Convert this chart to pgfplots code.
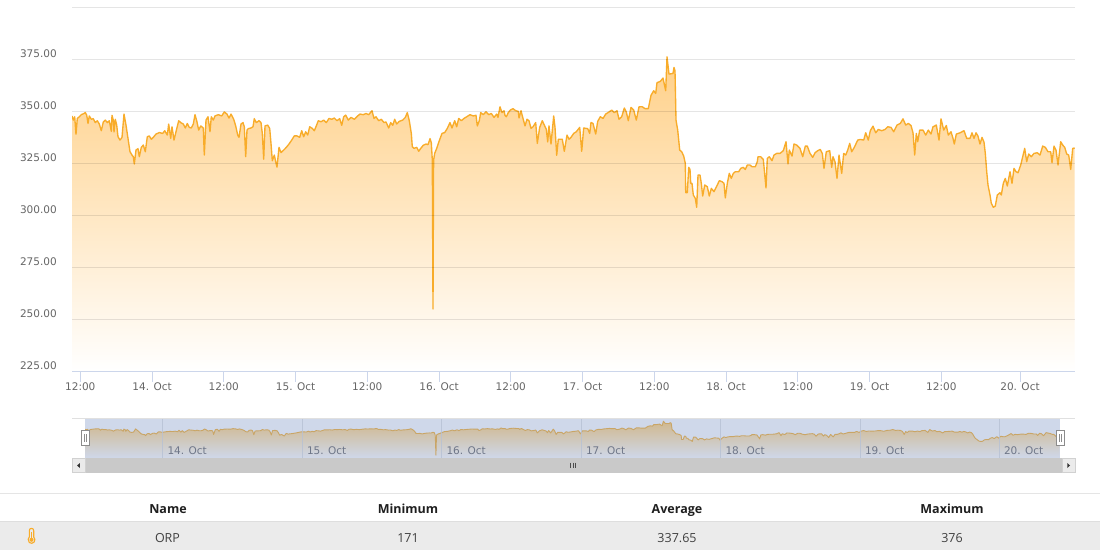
\documentclass[border=0pt]{standalone}
\usepackage{pgfplots}
\usepackage{pgfplotstable}
\usepackage{fontspec}
\pgfplotsset{compat=1.18}
\setmainfont{DejaVu Sans}
\newfontfamily\tbl{Open Sans}
\definecolor{orp}{HTML}{F8AC2A}
\definecolor{orpfill}{HTML}{FFD088}
\definecolor{navbg}{HTML}{CFD8EA}
\definecolor{navfill}{HTML}{D0B88E}
\definecolor{navline}{HTML}{C9A566}
\definecolor{navgrid}{HTML}{B7C1D4}
\definecolor{navtext}{HTML}{6E7688}
\definecolor{tick}{HTML}{CCD6EB}
\definecolor{lab}{HTML}{666666}
\pgfplotstableread{
x y
72.0 347.8
73.3 345.8
74.7 347.4
76 339.0
77.3 346.6
79.3 347.4
81.3 348.4
84 349.0
85.3 349.4
86.7 348.2
88 344.2
89.3 347.8
91.3 346.2
93.3 346.5
95.3 344.6
97.3 345.5
99.3 343.9
101.3 340.7
103.3 344.9
105.3 345.8
107.3 344.6
109.3 345.5
111.3 340.4
112 348.1
113.3 345.8
114 340.1
115.3 346.2
116.7 343.4
118 337.8
120 336.2
122 337.5
124 348.7
126 343.4
128 337
130 330.6
132 329
133.3 328.2
134.3 324.7
136 331.4
138 332.1
139.3 328.2
141.3 332.7
143.3 333.8
145.3 330.6
147.3 337.8
149.3 338.2
151.3 336.6
153.3 337.5
156 339.1
159.3 339.8
162.7 339.4
164.7 340.7
167.3 338.6
168.7 343.9
170.7 337
172 342.6
174 336.2
176 340.2
178.7 345.5
180.7 344.6
183.3 343.9
185.3 342
187.3 344.2
189.3 342.3
191.3 342
193.3 343.9
195 348.4
196.7 345.5
198.7 341
200.7 343
203.3 342
204.3 329
206 345.8
208 347.4
210 340.2
211.3 347.4
213.3 345.8
215 347.8
218.3 348.4
221.7 347.8
224.3 349.7
227 348.7
229 346.8
231 348.7
233.7 346.2
235.7 343
237.7 338.6
239 337.5
241 343.9
243 344.6
244.3 342.6
245.7 328.2
247 341
248.3 341.7
251 342
253 342.6
254.3 346.5
256.3 344.6
259 345.5
261 344.6
262.3 339.4
263.7 327
265 343
267.7 343.4
269.7 341.8
271 334.6
272.3 326.3
274.3 329
275.7 325.8
277 323.2
279 332.7
281 330.2
283.7 331.4
286.3 332.7
289 334.3
291.7 336.2
294.3 338.2
297 338.2
299.7 337.5
301.7 340.7
303.7 337.8
305.7 340.2
307.7 338.6
309.7 342.6
312.3 341.8
314.3 340.7
316.3 343
318.3 345.5
321 345
323.7 345.8
326.3 344.6
329 346.6
331.7 346.2
334.3 346.8
337 345.5
339.7 346.5
341.7 343.3
343.7 347.4
345.7 348.2
348.3 345.8
351 347.1
354.3 346.2
357.7 347.8
360 348.7
363.3 348.4
366 349
368.7 348.4
372 350.3
374 346.6
376 347.4
378.7 345.5
381.3 346.2
384 344.6
386 344.9
388.7 342
390.7 344.6
392.7 343.3
394.7 346.2
396.7 343.9
399.3 345.2
402.7 345.8
405.3 347.1
407.3 349.4
409.3 345.5
411.3 339.4
412.3 333
414 332.2
416.7 332.7
418.7 330.8
420.7 332.2
423.3 333.7
426 334.3
428 334
430 336.9
431.3 335
432.3 326.6
433 255
433.6 326.6
434.7 329.8
436.7 332.2
439.3 335.9
442 339.4
444.7 339.8
447.3 341.8
450 344.6
452 342
454.7 345.5
456.7 342.6
458.7 346.6
461.3 345.5
464 346.6
466.7 347.4
470 348.4
473.3 347.8
476 348.1
477.3 343
479.3 345.5
480.7 349.4
483.3 348.4
486 349.8
488.7 348.4
491.3 349
494 347.1
496.7 348.7
498 347.1
500 352.2
502 349.4
504 350.3
505 348.1
506.3 347.4
508.3 349.4
510.3 350.6
513 351.3
515.7 350.3
518.3 350
519 346.8
521 350.3
523 346.6
525 343
527 346.2
529 345.5
531 341.8
533 342.6
535.7 344.6
537.3 334.6
539.7 342.3
542.3 345.5
544.3 343.4
546.3 341.4
547.7 335.3
549 343
551 334.3
553.7 347.8
555 342.3
556.7 328.9
558.3 336.6
562.3 336.6
564.3 330.8
567 338.6
569 336.6
571 337.5
573.7 339.4
576.3 340.2
579.7 342.3
581.7 330.8
583.7 342
587.7 341.7
589.7 339.4
591 344.7
593 344.2
595.7 339.1
597.7 345.2
600.3 347.4
603 346.6
605.7 348.7
609 349.7
611.7 350.6
614.3 349.4
617 350.3
619 346.2
621.7 347.4
624.3 351.6
626.3 349.7
628.3 345.5
631 351.9
633.7 350.6
636.3 345.8
639 352.2
642.3 352.2
645 351.3
648.3 351.3
651 357.7
653.7 359.9
655.7 358.6
657 363.8
660.3 364.4
663 366
665.7 359.9
667 376.2
669 367.9
673 368.2
674 371.1
675 369.5
676 345.8
677.7 341
679.7 331.4
681.7 330.6
683.7 328.5
685.3 325
685.7 310.9
687.3 310.9
688.7 323.1
690 322.1
690.7 315.4
692 315.4
693.3 309.8
695.3 308.2
696.7 303.9
698 319.4
700 319.4
701.3 315.4
702.7 309.3
704.7 314.6
707.3 313.8
709.3 309.3
711.3 313
714 311.4
717.3 314.6
719.3 316.7
722 316.2
724 315.4
725.3 308.4
727.3 315.4
729.3 320.2
731.3 317.8
733.3 320.2
735.3 321
738.7 321
740.7 322.6
743.3 323.1
745.3 322.1
747.3 324.2
750 324.2
752 323.4
755.3 323.4
757.3 325.8
758 328.2
760.7 328.2
763.3 326.9
766 313.2
767.3 327.4
769.3 328.2
772 326.3
774 329
776.7 329.8
780 329.8
783.3 331.1
786 335.4
788 324.7
789.3 331.4
792 328.5
794 334.3
796.7 333.8
800 332.2
802.7 328.2
805.3 333.3
807.3 333.3
810 329.8
812.7 327.9
815 330.1
817.7 331.1
820.3 331.7
822.3 329.8
824 322.6
826.3 330.6
829.7 331.1
831.7 323.1
833 328.2
835 325.8
837 317.8
839 329
841.7 320.2
843.7 329.8
845.7 329
847.7 331.4
849.7 334.6
851.7 330.6
854.3 332.7
857.7 336.2
860.3 336.5
863.7 336.2
865.7 339.7
868.3 336.2
870.3 340.7
873 342.9
875.7 339.7
878.3 341.3
881.7 340.7
885 341.3
887.7 342.6
891 342.3
893.7 340.2
897 343.4
900.3 344.2
903 346.4
905.7 343.4
908.3 344.2
911 343.2
913 339.7
914.7 329
916.3 339.4
917.7 335.4
919.7 341
923 341
925.7 338.6
928.3 341
931 339.1
933 342.6
936.3 343.4
939 336.2
941 346.4
943.7 341
946.3 343.2
948.3 338.6
951 340.2
953 337
954.3 334.3
956.3 339.1
960 339.7
964 340.7
966.7 337
970 337
972 339.7
974 337
976 339.7
978 338.1
980 334.3
982 337.5
984 335.2
985.3 329.8
986.7 321
988 314.6
990 309.8
991.3 305.8
993.3 303.9
995.3 304.5
997.3 309.8
1000 310.9
1001.3 309.8
1003.3 315.4
1005.3 317.8
1007.3 314.1
1010 321
1012 315.4
1014 322.6
1016 321
1018 320.5
1020.7 324.2
1022.7 328.2
1024.7 332.2
1026.7 325.8
1028.7 329.5
1031.3 328.2
1034 329.8
1037.3 330.1
1040 329
1042.7 333.3
1045.3 332.7
1048 330.6
1050.7 330.6
1052 325.3
1054 333.3
1056 331.4
1058 324.2
1060.7 335.4
1062.7 333.8
1064.7 332.7
1066.7 329.5
1068.7 329
1070.7 322.1
1072.7 332.2
1074.7 332.4
}\orpdata
\newcommand{\ticksize}{\fontsize{10.5}{12}\selectfont}
\begin{document}
\begin{tikzpicture}[x=1pt,y=1pt]
\useasboundingbox (0,0) rectangle (1100,-559);
\fill[white] (0,0) rectangle (1100,-559);
% main chart
\begin{axis}[
  at={(72pt,-371.5pt)}, anchor=south west, scale only axis,
  width=1003pt, height=364.2pt,
  xmin=72, xmax=1075, ymin=225, ymax=400,
  axis on top,
  axis lines*=left, axis line style={-},
  x axis line style={draw=tick, line width=0.9pt},
  y axis line style={draw=none},
  ytick={225,250,275,300,325,350,375,400},
  yticklabels={225.00,250.00,275.00,300.00,325.00,350.00,375.00,},
  ymajorgrids, grid style={black, opacity=0.1, line width=0.9pt},
  y tick style={draw=none},
  yticklabel style={font=\ticksize, text=lab, inner sep=0pt, xshift=-5pt, yshift=5.4pt, anchor=east},
  xtick={80.3,152.1,223.8,295.6,367.3,439.1,510.8,582.6,654.3,726.1,797.8,869.6,941.3,1020},
  xticklabels={12:00,14. Oct,12:00,15. Oct,12:00,16. Oct,12:00,17. Oct,12:00,18. Oct,12:00,19. Oct,12:00,20. Oct},
  x tick style={draw=tick, line width=0.9pt},
  tick align=outside, major tick length=10pt,
  xticklabel style={font=\ticksize, text=lab, inner sep=0pt, anchor=north, yshift=-0.7pt},
]
\addplot[draw=none, top color=orpfill, bottom color=white] table[x=x,y=y] {\orpdata} \closedcycle;
\addplot[draw=orp, line width=1.35pt, line join=round, mark=none] table[x=x,y=y] {\orpdata};
\end{axis}
% navigator
\begin{axis}[
  at={(85pt,-458.2pt)}, anchor=south west, scale only axis,
  width=975pt, height=40pt,
  xmin=72, xmax=1075, ymin=244, ymax=387,
  axis on top,
  axis line style={draw=none},
  axis background/.style={fill=navbg},
  ytick=\empty,
  xtick={152.1,295.6,439.1,582.6,726.1,869.6,1012.6},
  xticklabels={14. Oct,15. Oct,16. Oct,17. Oct,18. Oct,19. Oct,20. Oct},
  xmajorgrids, grid style={draw=navgrid, opacity=0.8, line width=0.8pt},
  x tick style={draw=none}, major tick length=0pt,
  xticklabel style={font=\ticksize, text=navtext, inner sep=0pt, anchor=base west, xshift=4.5pt, yshift=4.2pt},
]
\addplot[draw=none, top color=navfill, bottom color=navbg] table[x=x,y=y] {\orpdata} \closedcycle;
\addplot[draw=navline, line width=0.9pt, line join=round, mark=none] table[x=x,y=y] {\orpdata};
\end{axis}
% navigator furniture
\draw[black!12, line width=0.8pt] (72,-418.3) -- (1075,-418.3);
\foreach \xx in {85.5,1060.5}{
  \filldraw[fill=white, draw=black!45, line width=0.7pt] (\xx-3.8,-430.7) rectangle (\xx+3.8,-445.3);
  \draw[black!45, line width=0.6pt] (\xx-1.2,-434) -- (\xx-1.2,-442) (\xx+1.2,-434) -- (\xx+1.2,-442);
}
% scrollbar
\fill[black!21] (72,-458.3) rectangle (1075,-472.8);
\filldraw[fill=black!8, draw=black!18, line width=0.7pt] (72,-458.3) rectangle (85,-472.8);
\filldraw[fill=black!8, draw=black!18, line width=0.7pt] (1062,-458.3) rectangle (1075,-472.8);
\fill[black!80] (77.2,-465.5) -- (79.8,-463) -- (79.8,-468) -- cycle;
\fill[black!80] (1070,-465.5) -- (1067.4,-463) -- (1067.4,-468) -- cycle;
\draw[black!70, line width=0.8pt] (570.5,-462.5) -- (570.5,-468) (573,-462.5) -- (573,-468) (575.5,-462.5) -- (575.5,-468);
% table
\draw[black!10, line width=1pt] (0,-493.3) -- (1100,-493.3);
\fill[black!8] (0,-522) rectangle (1100,-550);
\draw[black!13, line width=1.6pt] (0,-521.5) -- (1100,-521.5);
\begin{scope}[every node/.style={font=\tbl\fontsize{12.5}{14}\selectfont, anchor=base, inner sep=0pt, text=black!88}]
\node[font=\tbl\bfseries\fontsize{12.5}{14}\selectfont] at (168,-513) {Name};
\node[font=\tbl\bfseries\fontsize{12.5}{14}\selectfont] at (408,-513) {Minimum};
\node[font=\tbl\bfseries\fontsize{12.5}{14}\selectfont] at (677,-513) {Average};
\node[font=\tbl\bfseries\fontsize{12.5}{14}\selectfont] at (952,-513) {Maximum};
\node[text=black!75] at (167.5,-542) {ORP};
\node[text=black!75] at (408,-542) {171};
\node[text=black!75] at (677,-542) {337.65};
\node[text=black!75] at (952,-542) {376};
\end{scope}
% thermometer icon
\draw[orp, line width=1.1pt, line join=round] (29.3,-537) -- (29.3,-530.5) arc (180:0:2.2) -- (33.7,-537) arc (50:-230:3.4 and 3.6) -- cycle;
\fill[orp] (31.5,-539.8) circle (2);
\draw[orp, line width=1.2pt] (31.5,-539.8) -- (31.5,-532);
\end{tikzpicture}
\end{document}
